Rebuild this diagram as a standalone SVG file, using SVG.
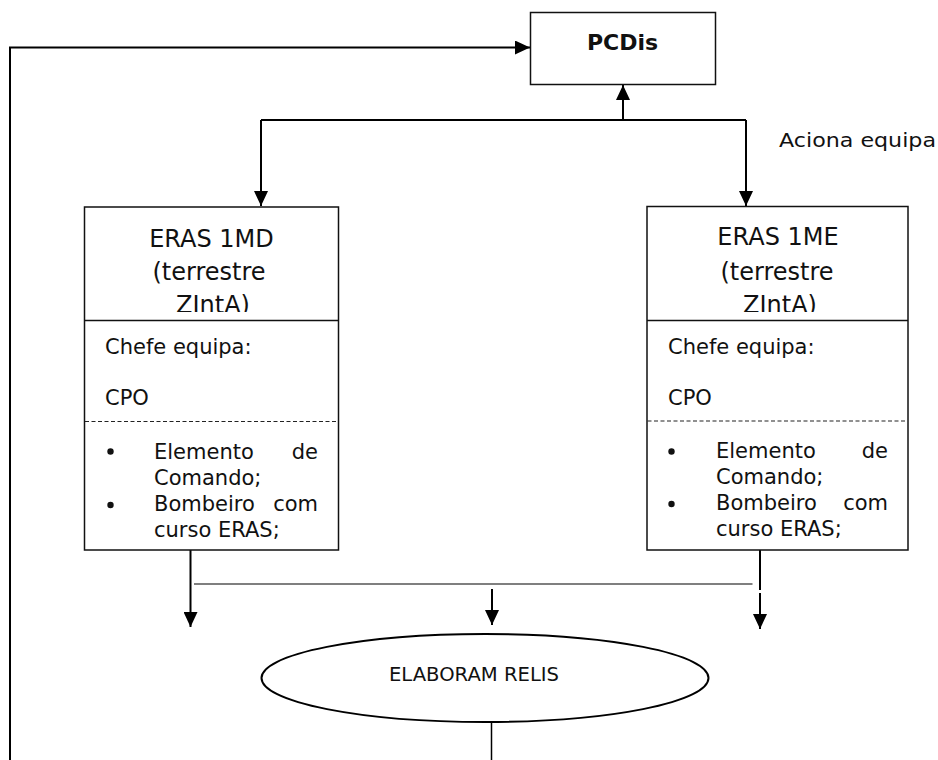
<svg xmlns="http://www.w3.org/2000/svg" width="938" height="760" viewBox="0 0 938 760">
<style>
.box{fill:#fff;stroke:#111;stroke-width:1.5}
.div{stroke:#111;stroke-width:1.5}
.dash{stroke:#222;stroke-width:1.2;stroke-dasharray:4 2.5}
.con{fill:none;stroke:#000;stroke-width:2}
.gray{fill:none;stroke:#555;stroke-width:1.6}
.hd{font-family:"DejaVu Sans",sans-serif;font-size:24px;fill:#111;text-anchor:middle}
.bd{font-family:"DejaVu Sans",sans-serif;font-size:21px;fill:#111}
.end{text-anchor:end}
.lbl{font-family:"DejaVu Sans",sans-serif;font-size:20px;fill:#111}
.ttl{font-family:"DejaVu Sans",sans-serif;font-size:22px;font-weight:bold;fill:#111;text-anchor:middle}
.ell{font-family:"DejaVu Sans",sans-serif;font-size:19px;fill:#111;text-anchor:middle}
</style>
<defs>
<marker id="ah" viewBox="0 0 15 14" refX="15" refY="7" markerWidth="15" markerHeight="14" markerUnits="userSpaceOnUse" orient="auto">
<path d="M0,0 L15,7 L0,14 z" fill="#000"/>
</marker>
<clipPath id="clipL"><rect x="84.5" y="207" width="254" height="105"/></clipPath>
<clipPath id="clipR"><rect x="647" y="207" width="261" height="105"/></clipPath>
</defs>
<rect width="938" height="760" fill="#fff"/>

<g id="connectors">
<path class="con" d="M10,760 V47.5 H530" marker-end="url(#ah)"/>
<path class="con" d="M623,120 V85" marker-end="url(#ah)"/>
<path class="con" d="M261,120 H746"/>
<path class="con" d="M261,120 V206" marker-end="url(#ah)"/>
<path class="con" d="M746,120 V206" marker-end="url(#ah)"/>
<path class="con" d="M190.5,550 V627" marker-end="url(#ah)"/>
<path class="gray" d="M194,584 H752.5"/>
<path class="con" d="M492,589 V625" marker-end="url(#ah)"/>
<path class="con" d="M760,550 V590"/>
<path class="con" d="M760,593 V629" marker-end="url(#ah)"/>
<path class="con" d="M491.5,722 V760" style="stroke-width:1.5"/>
<text class="lbl" x="779" y="147" textLength="157" lengthAdjust="spacingAndGlyphs">Aciona equipa</text>
</g>

<g id="pcdis">
<rect class="box" x="530.5" y="12.5" width="185" height="72"/>
<text class="ttl" x="622.5" y="50">PCDis</text>
</g>

<g id="eras1md">
<rect class="box" x="84.5" y="207" width="254" height="343"/>
<line class="div" x1="84.5" y1="320.5" x2="338.5" y2="320.5"/>
<g clip-path="url(#clipL)">
<text class="hd" x="211.5" y="247">ERAS 1MD</text>
<text class="hd" x="209" y="280">(terrestre</text>
<text class="hd" x="213" y="312.5">ZIntA)</text>
</g>
<text class="bd" x="105" y="354">Chefe equipa:</text>
<text class="bd" x="105" y="405">CPO</text>
<line class="dash" x1="85" y1="421.5" x2="338" y2="421.5"/>
<circle cx="110.5" cy="451.5" r="3.2" fill="#111"/>
<text class="bd" x="154" y="458.5">Elemento</text>
<text class="bd end" x="318" y="458.5">de</text>
<text class="bd" x="154" y="484.5">Comando;</text>
<circle cx="110.5" cy="505" r="3.2" fill="#111"/>
<text class="bd" x="154" y="511">Bombeiro</text>
<text class="bd end" x="318" y="511">com</text>
<text class="bd" x="154" y="537">curso ERAS;</text>
</g>

<g id="eras1me">
<rect class="box" x="647" y="206.5" width="261" height="343.5"/>
<line class="div" x1="647" y1="320.5" x2="908" y2="320.5"/>
<g clip-path="url(#clipR)">
<text class="hd" x="778" y="245">ERAS 1ME</text>
<text class="hd" x="777" y="280">(terrestre</text>
<text class="hd" x="780" y="312.5">ZIntA)</text>
</g>
<text class="bd" x="668" y="353.5">Chefe equipa:</text>
<text class="bd" x="668" y="404.5">CPO</text>
<line class="dash" x1="647.5" y1="421" x2="907.5" y2="421"/>
<circle cx="671.5" cy="451.5" r="3.2" fill="#111"/>
<text class="bd" x="716" y="458">Elemento</text>
<text class="bd end" x="888" y="458">de</text>
<text class="bd" x="716" y="483.5">Comando;</text>
<circle cx="671.5" cy="504" r="3.2" fill="#111"/>
<text class="bd" x="716" y="510">Bombeiro</text>
<text class="bd end" x="888" y="510">com</text>
<text class="bd" x="716" y="535.5">curso ERAS;</text>
</g>

<g id="elaboram">
<ellipse cx="485" cy="678" rx="223.5" ry="44" fill="#fff" stroke="#000" stroke-width="2"/>
<text class="ell" x="474" y="681" textLength="170" lengthAdjust="spacingAndGlyphs">ELABORAM RELIS</text>
</g>
</svg>
